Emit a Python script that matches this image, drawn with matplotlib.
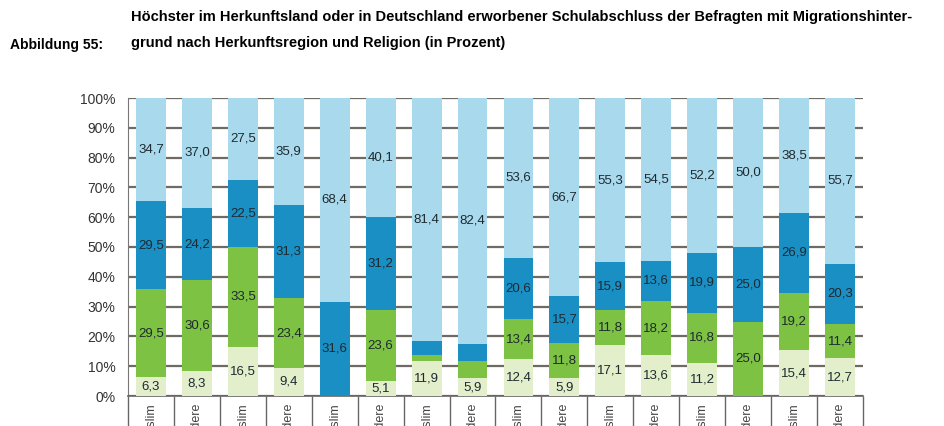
import numpy as np
import matplotlib.pyplot as plt
from matplotlib import font_manager

# Werte je Balken von unten nach oben (in Prozent)
labels = ["Muslim", "Andere"] * 8
seg1 = [6.3, 8.3, 16.5, 9.4, 0.0, 5.1, 11.9, 5.9, 12.4, 5.9, 17.1, 13.6, 11.2, 0.0, 15.4, 12.7]
seg2 = [29.5, 30.6, 33.5, 23.4, 0.0, 23.6, 2.0, 5.8, 13.4, 11.8, 11.8, 18.2, 16.8, 25.0, 19.2, 11.4]
seg3 = [29.5, 24.2, 22.5, 31.3, 31.6, 31.2, 4.7, 5.9, 20.6, 15.7, 15.9, 13.6, 19.9, 25.0, 26.9, 20.3]
seg4 = [34.7, 37.0, 27.5, 35.9, 68.4, 40.1, 81.4, 82.4, 53.6, 66.7, 55.3, 54.5, 52.2, 50.0, 38.5, 55.7]
# kleine Segmente ohne Beschriftung
hide = {(6, 1), (6, 2), (7, 1), (7, 2)}

colors = ["#e2efca", "#7dc243", "#1a8fc4", "#a9d9ec"]

names = [f.name for f in font_manager.fontManager.ttflist]
title_font = "Liberation Sans Narrow" if "Liberation Sans Narrow" in names else "Liberation Sans"
plt.rcParams['font.family'] = ['Liberation Sans', 'DejaVu Sans']

fig = plt.figure(figsize=(9.45, 4.26), dpi=100)
ax = fig.add_axes([128/945, 1-396/426, 735/945, 298/426])

x = np.arange(len(labels))
series = [seg1, seg2, seg3, seg4]
bottom = np.zeros(len(labels))
for k, s in enumerate(series):
    s = np.array(s)
    ax.bar(x, s, bottom=bottom, width=0.65, color=colors[k], zorder=3)
    for i in range(len(labels)):
        if s[i] <= 0 or (i, k) in hide:
            continue
        ax.text(x[i], bottom[i] + s[i]/2, f"{s[i]:.1f}".replace(".", ","),
                ha="center", va="center", fontsize=9.5, color="#1e2a30", zorder=4)
    bottom += s

ax.set_xlim(-0.5, len(labels) - 0.5)
ax.set_ylim(0, 100)
ax.set_yticks(np.arange(0, 101, 10))
ax.set_yticklabels([f"{v}%" for v in range(0, 101, 10)], fontsize=10, color="#333333")
ax.yaxis.grid(True, color="#6e6a64", linewidth=1.6, zorder=0)
ax.tick_params(axis="y", length=0, pad=9)

# Kategorien unten (im Original vom Bildrand abgeschnitten)
ax.set_xticks(x)
ax.set_xticklabels(labels, rotation=90, fontsize=9, color="#444444", va="top")
ax.tick_params(axis="x", length=0, pad=5)
ax.set_xticks(np.arange(-0.5, len(labels), 1), minor=True)
ax.tick_params(axis="x", which="minor", length=24, width=1, color="#666666", direction="out")

for sp in ["top", "right"]:
    ax.spines[sp].set_visible(False)
ax.spines["left"].set_color("#777777")
ax.spines["bottom"].set_color("#666666")
ax.spines["bottom"].set_linewidth(1.2)

fig.text(10/945, 1-45/426, "Abbildung 55:", family=title_font, fontweight="bold",
         fontsize=10, va="center", ha="left")
fig.text(131/945, 1-17/426,
         "Höchster im Herkunftsland oder in Deutschland erworbener Schulabschluss der Befragten mit Migrationshinter-",
         family=title_font, fontweight="bold", fontsize=10.5, va="center", ha="left")
fig.text(131/945, 1-43/426, "grund nach Herkunftsregion und Religion (in Prozent)",
         family=title_font, fontweight="bold", fontsize=10.5, va="center", ha="left")

fig.savefig("out.png", dpi=100)
